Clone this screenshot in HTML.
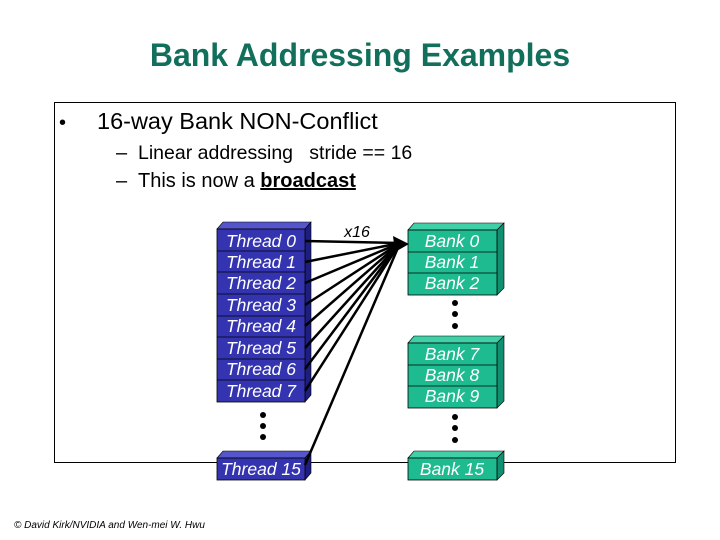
<!DOCTYPE html>
<html><head><style>
html,body{margin:0;padding:0;background:#fff;}
svg{display:block;}
</style></head><body>
<svg width="720" height="540" xmlns="http://www.w3.org/2000/svg" font-family="Liberation Sans, Arial, sans-serif">
<text x="360" y="66" text-anchor="middle" font-size="32" font-weight="bold" fill="#126f5c">Bank Addressing Examples</text>
<rect x="54.5" y="102.5" width="621" height="360" fill="none" stroke="#000" stroke-width="1"/>
<text x="59" y="129" font-size="20">•</text>
<text x="97" y="129" font-size="23.5">16-way Bank NON-Conflict</text>
<text x="116" y="159" font-size="20">–</text>
<text x="138" y="159" font-size="19.5" xml:space="preserve">Linear addressing   stride == 16</text>
<text x="116" y="187" font-size="20">–</text>
<text x="138" y="187" font-size="20">This is now a <tspan font-weight="bold" text-decoration="underline">broadcast</tspan></text>

<!-- threads -->
<g>
<polygon points="217,229 223,222 311,222 305,229" fill="#5555cc" stroke="#000" stroke-width="0.6"/>
<polygon points="305,229 311,222 311,395 305,402" fill="#1e1e80" stroke="#000" stroke-width="0.6"/>
<rect x="217" y="229" width="88" height="173" fill="#3434b0" stroke="#000" stroke-width="0.8"/>
<g stroke="#000" stroke-width="0.8">
<line x1="217" y1="251" x2="305" y2="251"/><line x1="217" y1="272" x2="305" y2="272"/>
<line x1="217" y1="294" x2="305" y2="294"/><line x1="217" y1="316" x2="305" y2="316"/>
<line x1="217" y1="337" x2="305" y2="337"/><line x1="217" y1="359" x2="305" y2="359"/>
<line x1="217" y1="380" x2="305" y2="380"/>
</g>
<g fill="#fff" font-size="17.5" font-style="italic" text-anchor="middle">
<text x="261" y="247">Thread 0</text><text x="261" y="268">Thread 1</text>
<text x="261" y="289">Thread 2</text><text x="261" y="311">Thread 3</text>
<text x="261" y="332">Thread 4</text><text x="261" y="354">Thread 5</text>
<text x="261" y="375">Thread 6</text><text x="261" y="397">Thread 7</text>
</g>
<polygon points="217,458 223,451 311,451 305,458" fill="#5555cc" stroke="#000" stroke-width="0.6"/>
<polygon points="305,458 311,451 311,473 305,480" fill="#1e1e80" stroke="#000" stroke-width="0.6"/>
<rect x="217" y="458" width="88" height="22" fill="#3434b0" stroke="#000" stroke-width="0.8"/>
<text x="261" y="475" fill="#fff" font-size="17.5" font-style="italic" text-anchor="middle">Thread 15</text>
<circle cx="263" cy="415" r="3"/><circle cx="263" cy="426" r="3"/><circle cx="263" cy="437" r="3"/>
</g>

<!-- banks -->
<g>
<polygon points="408,230 414,223 504,223 497,230" fill="#40d0a8" stroke="#000" stroke-width="0.6"/>
<polygon points="497,230 504,223 504,288 497,295" fill="#109070" stroke="#000" stroke-width="0.6"/>
<rect x="408" y="230" width="89" height="65" fill="#1fbb90" stroke="#000" stroke-width="0.8"/>
<line x1="408" y1="252" x2="497" y2="252" stroke="#000" stroke-width="0.8"/>
<line x1="408" y1="273" x2="497" y2="273" stroke="#000" stroke-width="0.8"/>
<polygon points="408,343 414,336 504,336 497,343" fill="#40d0a8" stroke="#000" stroke-width="0.6"/>
<polygon points="497,343 504,336 504,401 497,408" fill="#109070" stroke="#000" stroke-width="0.6"/>
<rect x="408" y="343" width="89" height="65" fill="#1fbb90" stroke="#000" stroke-width="0.8"/>
<line x1="408" y1="365" x2="497" y2="365" stroke="#000" stroke-width="0.8"/>
<line x1="408" y1="386" x2="497" y2="386" stroke="#000" stroke-width="0.8"/>
<polygon points="408,458 414,451 504,451 497,458" fill="#40d0a8" stroke="#000" stroke-width="0.6"/>
<polygon points="497,458 504,451 504,473 497,480" fill="#109070" stroke="#000" stroke-width="0.6"/>
<rect x="408" y="458" width="89" height="22" fill="#1fbb90" stroke="#000" stroke-width="0.8"/>
<g fill="#fff" font-size="17.5" font-style="italic" text-anchor="middle">
<text x="452" y="247">Bank 0</text><text x="452" y="268">Bank 1</text><text x="452" y="289">Bank 2</text>
<text x="452" y="360">Bank 7</text><text x="452" y="381">Bank 8</text><text x="452" y="402">Bank 9</text>
<text x="452" y="475">Bank 15</text>
</g>
<circle cx="455" cy="303" r="3"/><circle cx="455" cy="314" r="3"/><circle cx="455" cy="326" r="3"/>
<circle cx="455" cy="417" r="3"/><circle cx="455" cy="428" r="3"/><circle cx="455" cy="440" r="3"/>
</g>

<text x="357" y="237" font-size="16" font-style="italic" text-anchor="middle">x16</text>
<g stroke="#000" stroke-width="2.5">
<line x1="305" y1="241" x2="400" y2="243"/><line x1="305" y1="262" x2="400" y2="243"/>
<line x1="305" y1="283" x2="400" y2="243"/><line x1="305" y1="305" x2="400" y2="243"/>
<line x1="305" y1="326" x2="400" y2="243"/><line x1="305" y1="348" x2="400" y2="243"/>
<line x1="305" y1="369" x2="400" y2="243"/><line x1="305" y1="391" x2="400" y2="243"/>
<line x1="305" y1="465" x2="400" y2="243"/>
</g>
<polygon points="409,244 393,236 395,252" fill="#000"/>

<text x="14" y="528" font-size="10" font-style="italic">© David Kirk/NVIDIA and Wen-mei W. Hwu</text>
</svg>
</body></html>
